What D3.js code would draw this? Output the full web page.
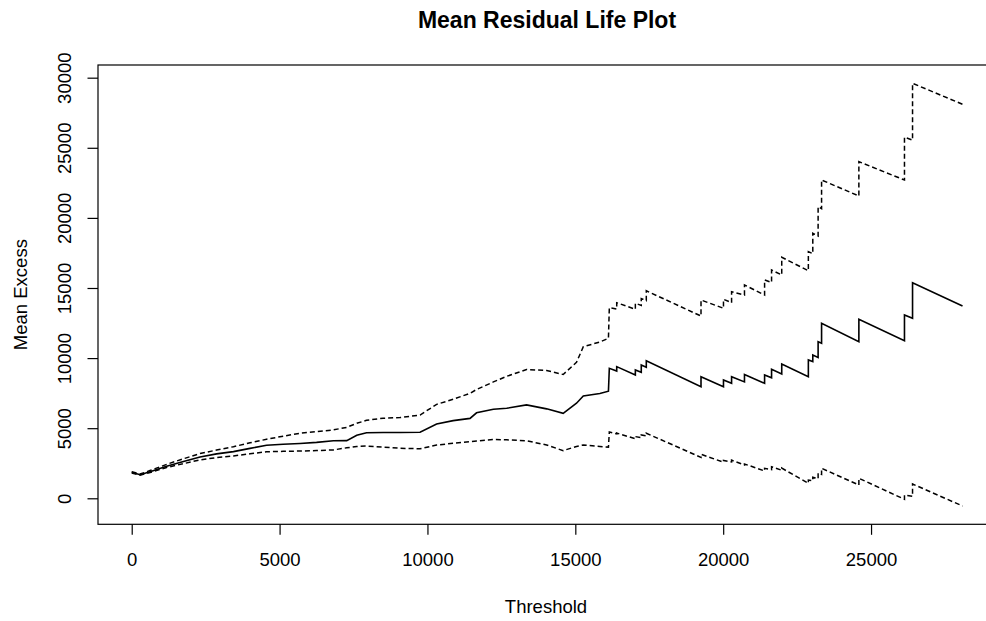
<!DOCTYPE html>
<html>
<head>
<meta charset="utf-8">
<script src="https://cdn.jsdelivr.net/npm/d3@7"></script>
<style>
  html, body { margin: 0; padding: 0; background: #fff; }
  svg { display: block; }
  text { font-family: "Liberation Sans", Arial, sans-serif; fill: #000; }
</style>
</head>
<body>
<svg id="chart" width="986" height="621"></svg>
<script>
// ---- data ----
const thresholds = [
  0, 280, 620, 1180, 1750, 2310, 2870, 3440, 4000, 4560,
  5120, 5690, 6250, 6820, 7270, 7610, 7940, 8500, 9070, 9750,
  10310, 10870, 11440, 11660, 12230, 12680, 13350, 14030, 14590, 15040,
  15270, 15830, 16120, 16150, 16400, 16400, 17030, 17030, 17230, 17230,
  17400, 17400, 19250, 19250, 20010, 20010, 20284, 20284, 20720, 20720,
  21400, 21400, 21636, 21636, 21980, 21980, 22880, 22880, 23030, 23030,
  23210, 23210, 23327, 23327, 24588, 24588, 26130, 26130, 26403, 26403,
  28093
];
const meanExcess = [
  1860, 1680, 1900, 2280, 2620, 2950, 3170, 3330, 3560, 3780,
  3850, 3910, 3990, 4100, 4110, 4500, 4680, 4690, 4690, 4710,
  5300, 5540, 5700, 6100, 6350, 6420, 6660, 6380, 6060, 6780,
  7300, 7480, 7640, 9270, 9080, 9390, 8790, 9150, 8990, 9500,
  9340, 9815, 7960, 8673, 7950, 8440, 8200, 8673, 8300, 8830,
  8202, 8795, 8600, 9201, 8866, 9579, 8673, 9864, 9750, 10221,
  10050, 11170, 11060, 12482, 11170, 12767, 11241, 13074, 12839, 15378,
  13716
];
const lowerCI = [
  1800, 1640, 1840, 2200, 2470, 2740, 2900, 3020, 3170, 3320,
  3350, 3370, 3400, 3450, 3600, 3700, 3730, 3650, 3570, 3530,
  3800, 3920, 4040, 4090, 4190, 4170, 4100, 3800, 3400, 3700,
  3800, 3700, 3650, 4730, 4600, 4650, 4250, 4400, 4330, 4520,
  4450, 4640, 2920, 3140, 2570, 2700, 2600, 2720, 2380, 2450,
  1950, 2140, 2050, 2250, 2000, 2150, 1070, 1300, 1250, 1500,
  1400, 1800, 1700, 2140, 949, 1427, -71, 235, 140, 1020,
  -549
];
const upperCI = [
  1900, 1730, 1980, 2420, 2820, 3190, 3440, 3680, 3960, 4210,
  4430, 4640, 4760, 4880, 5060, 5350, 5560, 5710, 5760, 5940,
  6700, 7060, 7490, 7760, 8300, 8700, 9180, 9120, 8830, 9700,
  10810, 11150, 11410, 13600, 13500, 13950, 13480, 13910, 13760, 14250,
  14100, 14800, 13000, 14144, 13552, 14195, 13950, 14736, 14500, 15214,
  14501, 15571, 15400, 16284, 15928, 17190, 16234, 17589, 17450, 18901,
  18700, 20799, 20650, 22703, 21562, 24009, 22703, 25750, 25550, 29600,
  28103
];
const xTicks = [0, 5000, 10000, 15000, 20000, 25000];
const yTicks = [0, 5000, 10000, 15000, 20000, 25000, 30000];
const titleText = "Mean Residual Life Plot";
const xLabel = "Threshold";
const yLabel = "Mean Excess";

// ---- layout ----
const box = { left: 98, right: 996, top: 65, bottom: 524.3 };
const svg = d3.select("#chart");

const x = d3.scaleLinear().domain([-1140, 29225]).range([box.left, box.right]);
const y = d3.scaleLinear().domain([-1855, 30905]).range([box.bottom, box.top]);

// plot box
svg.append("rect")
  .attr("x", box.left).attr("y", box.top)
  .attr("width", box.right - box.left).attr("height", box.bottom - box.top)
  .attr("fill", "none").attr("stroke", "#000").attr("stroke-width", 1.2);

// axes
const xAxis = d3.axisBottom(x).tickValues(xTicks).tickSize(10.5).tickPadding(18).tickFormat(d3.format("d"));
const gx = svg.append("g").attr("transform", `translate(0,${box.bottom})`).call(xAxis);
gx.select(".domain").remove();
gx.selectAll("line").attr("stroke", "#000").attr("stroke-width", 1.2);
gx.selectAll("text").attr("font-size", "18.5px").attr("dy", null)
  .attr("y", 42.2).attr("font-family", "Liberation Sans, Arial, sans-serif").attr("fill", "#000");

const yAxis = d3.axisLeft(y).tickValues(yTicks).tickSize(10.5).tickFormat(d3.format("d"));
const gy = svg.append("g").attr("transform", `translate(${box.left},0)`).call(yAxis);
gy.select(".domain").remove();
gy.selectAll("line").attr("stroke", "#000").attr("stroke-width", 1.2);
gy.selectAll("text")
  .attr("x", null).attr("dy", null)
  .attr("font-size", "18.5px").attr("font-family", "Liberation Sans, Arial, sans-serif").attr("fill", "#000")
  .attr("text-anchor", "middle")
  .attr("transform", "translate(-27.5,0) rotate(-90)");

// lines
const pts = thresholds.map((u, i) => ({ u, m: meanExcess[i], lo: lowerCI[i], hi: upperCI[i] }));
const lineOf = key => d3.line().x(d => x(d.u)).y(d => y(d[key]));

svg.append("path").datum(pts).attr("d", lineOf("hi"))
  .attr("fill", "none").attr("stroke", "#000").attr("stroke-width", 1.5).attr("stroke-dasharray", "5,3");
svg.append("path").datum(pts).attr("d", lineOf("lo"))
  .attr("fill", "none").attr("stroke", "#000").attr("stroke-width", 1.5).attr("stroke-dasharray", "5,3");
svg.append("path").datum(pts).attr("d", lineOf("m"))
  .attr("fill", "none").attr("stroke", "#000").attr("stroke-width", 1.6);

// titles
const cx = (box.left + box.right) / 2;
svg.append("text").attr("x", cx).attr("y", 28).attr("text-anchor", "middle")
  .attr("font-size", "23px").attr("font-weight", "bold").text(titleText);
svg.append("text").attr("x", cx - 1).attr("y", 612.5).attr("text-anchor", "middle")
  .attr("font-size", "18.5px").text(xLabel);
svg.append("text").attr("transform", `translate(26.5,${(box.top + box.bottom) / 2}) rotate(-90)`)
  .attr("text-anchor", "middle").attr("font-size", "18.5px").text(yLabel);
</script>
</body>
</html>
